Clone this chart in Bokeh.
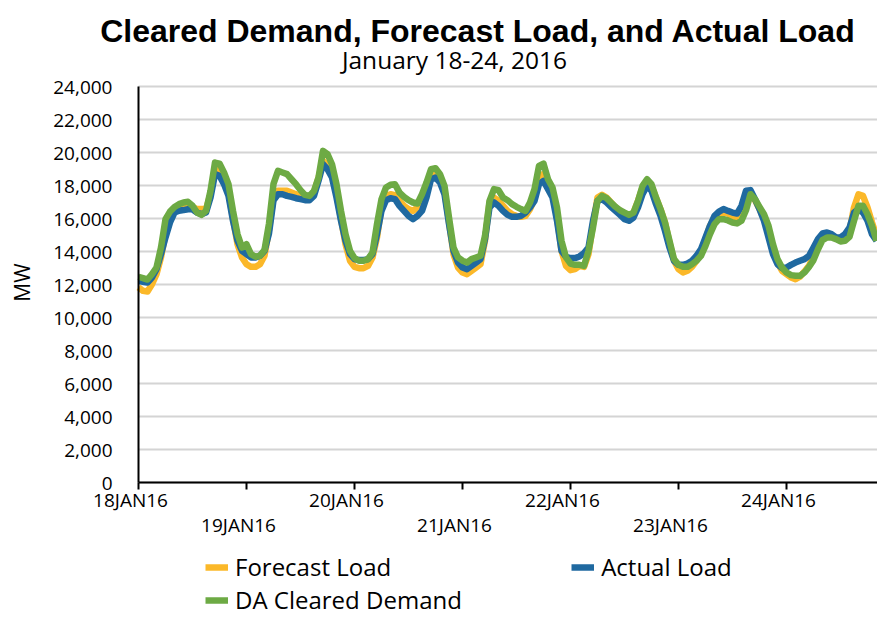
from bokeh.plotting import figure
from bokeh.models import (Range1d, Label, LabelSet, ColumnDataSource, Legend, LegendItem)
from bokeh.core.properties import value
from bokeh.embed import file_html
from bokeh.resources import INLINE

# ---------------- data (hourly MW, starting 18 Jan 2016 00:00) ----------------
day_labels = ["18JAN16", "19JAN16", "20JAN16", "21JAN16", "22JAN16", "23JAN16", "24JAN16"]
y_ticks = [0, 2000, 4000, 6000, 8000, 10000, 12000, 14000, 16000, 18000, 20000, 22000, 24000]
y_tick_labels = ["0", "2,000", "4,000", "6,000", "8,000", "10,000", "12,000", "14,000",
                 "16,000", "18,000", "20,000", "22,000", "24,000"]

forecast_load = [
    11820, 11620, 11580, 12020, 12630, 13640, 15050, 16060, 16460, 16570, 16670, 16730,
    16710, 16570, 16570, 16570, 17470, 18990, 18890, 18280, 17580, 15960, 14440, 13640,
    13230, 13070, 13070, 13230, 13740, 15300, 17300, 17680, 17680, 17680, 17580, 17470,
    17270, 17230, 17270, 17580, 18480, 19500, 19190, 18690, 17470, 15960, 14440, 13440,
    13070, 12990, 12990, 13130, 13640, 14850, 16670, 17370, 17470, 17410, 17070, 16770,
    16570, 16460, 16670, 16970, 17680, 18690, 18790, 18380, 17680, 15760, 13840, 13030,
    12730, 12630, 12830, 13030, 13230, 14650, 16970, 17270, 17070, 16770, 16460, 16260,
    16160, 16100, 16160, 16570, 17170, 18590, 18690, 18080, 17580, 16060, 14040, 13130,
    12870, 12930, 13130, 13070, 13840, 15660, 17270, 17430, 17270, 16970, 16670, 16470,
    16260, 16060, 16360, 17070, 17880, 18280, 17980, 17270, 16570, 15760, 14550, 13440,
    12930, 12730, 12830, 13070, 13440, 13940, 14750, 15560, 16060, 16260, 16360, 16300,
    16020, 16020, 16160, 17270, 17470, 17110, 16570, 15960, 15250, 14140, 13330, 12830,
    12630, 12430, 12320, 12470, 12790, 13130, 13740, 14450, 14850, 15010, 14950, 14850,
    14750, 14850, 15250, 16670, 17470, 17370, 16670, 15760, 14950]

actual_load = [
    12220, 12170, 12120, 12420, 12930, 13840, 14850, 15760, 16360, 16470, 16510, 16560,
    16560, 16360, 16260, 16360, 17270, 18690, 18590, 18080, 17370, 15860, 14650, 14040,
    13840, 13640, 13640, 13740, 14040, 15100, 17100, 17470, 17470, 17370, 17310, 17230,
    17170, 17110, 17110, 17370, 18280, 19290, 18990, 18480, 17270, 15860, 14650, 13840,
    13540, 13480, 13480, 13540, 13840, 15050, 16460, 17110, 17230, 17170, 16770, 16460,
    16160, 15960, 16160, 16460, 17270, 18380, 18480, 18180, 17470, 15660, 14040, 13330,
    13030, 12930, 13130, 13330, 13540, 14750, 16670, 16970, 16770, 16460, 16220, 16100,
    16100, 16160, 16360, 16670, 17070, 18080, 18280, 17780, 17270, 15860, 14040, 13680,
    13600, 13600, 13700, 13900, 14240, 15860, 17070, 17170, 16970, 16710, 16460, 16220,
    15960, 15860, 16060, 16670, 17470, 17980, 17680, 16870, 16160, 15250, 14240, 13440,
    13190, 13190, 13270, 13440, 13740, 14140, 14850, 15560, 16160, 16420, 16570, 16460,
    16360, 16300, 16770, 17680, 17720, 17170, 16570, 15860, 14850, 13840, 13230, 12990,
    13030, 13190, 13330, 13440, 13540, 13740, 14240, 14750, 15090, 15150, 15050, 14850,
    14850, 15050, 15450, 16360, 16570, 16360, 15860, 15050, 14650]

da_cleared_demand = [
    12470, 12390, 12300, 12630, 13030, 14240, 15960, 16420, 16700, 16870, 16970, 17010,
    16770, 16360, 16220, 16460, 17680, 19390, 19330, 18790, 18080, 16460, 15050, 14240,
    14440, 13840, 13680, 13740, 14100, 15700, 18100, 18890, 18790, 18690, 18380, 18080,
    17720, 17430, 17370, 17680, 18480, 20100, 19900, 19290, 18080, 16460, 15050, 14040,
    13600, 13440, 13440, 13540, 13940, 15660, 17170, 17880, 18040, 18080, 17570, 17310,
    17110, 16970, 16910, 17470, 18180, 18990, 19050, 18690, 17980, 16060, 14240, 13640,
    13440, 13330, 13540, 13640, 13740, 14950, 17070, 17780, 17720, 17270, 17110, 16870,
    16710, 16570, 16460, 16970, 17780, 19190, 19330, 18380, 17880, 16670, 14650, 13640,
    13270, 13190, 13190, 13130, 14040, 15450, 17070, 17370, 17230, 16970, 16710, 16500,
    16360, 16220, 16360, 17070, 17980, 18380, 18080, 17270, 16570, 15760, 14650, 13540,
    13190, 13070, 13070, 13230, 13440, 13740, 14340, 15050, 15660, 15960, 15960, 15880,
    15760, 15700, 15860, 16500, 17470, 17170, 16710, 16260, 15560, 14440, 13540, 13030,
    12730, 12570, 12530, 12530, 12730, 13070, 13480, 14140, 14690, 14850, 14850, 14750,
    14610, 14650, 14890, 15860, 16770, 16770, 16260, 15560, 14650]

ORANGE = "#FBB829"
BLUE = "#1F69A0"
GREEN = "#6DAA44"
FONT = "Open Sans"

# ---------------- layout (pixels) ----------------
W, H = 877, 618
X0, Y0 = 138, 482          # plot origin (hour 0, 0 MW) on the canvas
PX_H = 4.5                 # px per hour
PX_MW = 396 / 24000        # px per MW
X_END = (W - X0) / PX_H    # last visible hour


def cx(px):   # canvas x -> hours
    return (px - X0) / PX_H


def cy(py):   # canvas y -> MW
    return (Y0 - py) / PX_MW


p = figure(width=W, height=H, output_backend="svg", toolbar_location=None, title=None,
           x_axis_type=None, y_axis_type=None,
           x_range=Range1d(cx(0), cx(W)), y_range=Range1d(cy(H), cy(0)),
           min_border=0, min_border_left=0, min_border_right=0,
           min_border_top=0, min_border_bottom=0)
p.outline_line_color = None
p.background_fill_color = "white"
p.border_fill_color = "white"

# horizontal gridlines
p.segment(x0=[0] * len(y_ticks), y0=y_ticks, x1=[X_END] * len(y_ticks), y1=y_ticks,
          line_color="#d4d4d4", line_width=2)

# series
r_f = p.line(list(range(len(forecast_load))), forecast_load, line_color=ORANGE,
             line_width=6.5, line_join="round")
r_a = p.line(list(range(len(actual_load))), actual_load, line_color=BLUE,
             line_width=6.5, line_join="round")
r_d = p.line(list(range(len(da_cleared_demand))), da_cleared_demand, line_color=GREEN,
             line_width=6.5, line_join="round")

# axes lines and day ticks
day_ticks = [24 * i for i in range(len(day_labels))]
p.segment(x0=[0], y0=[0], x1=[0], y1=[y_ticks[-1]], line_color="black", line_width=2)
p.segment(x0=[0], y0=[0], x1=[X_END], y1=[0], line_color="black", line_width=2)
p.segment(x0=day_ticks, y0=[0] * len(day_ticks), x1=day_ticks,
          y1=[cy(Y0 + 7)] * len(day_ticks), line_color="black", line_width=2)

# y tick labels
ysrc = ColumnDataSource(dict(x=[0] * len(y_ticks), y=y_ticks, text=y_tick_labels))
p.add_layout(LabelSet(x="x", y="y", text="text", source=ysrc, x_offset=-26, y_offset=-1,
                      text_align="right", text_baseline="middle", text_font=value(FONT),
                      text_font_size=value("19px"), text_color=value("black")))

# staggered date labels (8px left of their tick)
row_y = [cy(499) if i % 2 == 0 else cy(524) for i in range(len(day_labels))]
xsrc = ColumnDataSource(dict(x=day_ticks, y=row_y, text=day_labels))
p.add_layout(LabelSet(x="x", y="y", text="text", source=xsrc, x_offset=-8,
                      text_align="center", text_baseline="middle", text_font=value(FONT),
                      text_font_size=value("19px"), text_color=value("black")))

# titles
p.add_layout(Label(x=cx(477.5), y=cy(30), text="Cleared Demand, Forecast Load, and Actual Load",
                   text_align="center", text_baseline="alphabetic",
                   text_font="Liberation Sans", text_font_style="bold",
                   text_font_size="32px", text_color="black"))
p.add_layout(Label(x=cx(454), y=cy(59), text="January 18-24, 2016",
                   text_align="center", text_baseline="alphabetic", text_font=FONT,
                   text_font_size="24.5px", text_color="black"))
p.add_layout(Label(x=cx(21), y=cy(282), text="MW", angle=1.5708,
                   text_align="center", text_baseline="middle", text_font=FONT,
                   text_font_size="21px", text_color="black"))

# legend
common = dict(glyph_width=23, glyph_height=24, label_height=24, label_standoff=7,
              padding=0, margin=0, border_line_color=None, background_fill_alpha=0,
              label_text_font=FONT, label_text_font_size="24px", label_text_color="black")
leg1 = Legend(items=[LegendItem(label="Forecast Load", renderers=[r_f]),
                     LegendItem(label="Actual Load", renderers=[r_a])],
              orientation="horizontal", spacing=180, location=(205, H - 583), **common)
leg2 = Legend(items=[LegendItem(label="DA Cleared Demand", renderers=[r_d])],
              location=(205, H - 616), **common)
p.add_layout(leg1)
p.add_layout(leg2)

open("out.html", "w").write(file_html(p, INLINE))
